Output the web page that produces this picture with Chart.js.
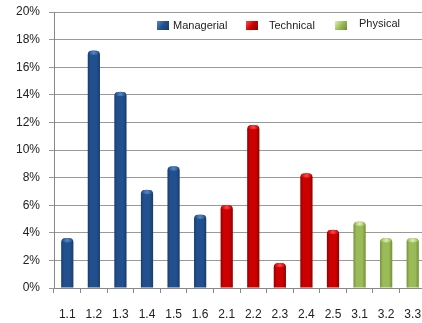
<!DOCTYPE html>
<html>
<head>
<meta charset="utf-8">
<script src="https://cdn.jsdelivr.net/npm/chart.js@4"></script>
<style>
  html, body { margin: 0; padding: 0; background: #fff; overflow: hidden; }
  #wrap { width: 426px; height: 323px; }
</style>
</head>
<body>
<div id="wrap"><canvas id="chart" width="426" height="323"></canvas></div>
<script>
"use strict";

// categories and values (percent)
const categories = ["1.1", "1.2", "1.3", "1.4", "1.5", "1.6", "2.1", "2.2", "2.3", "2.4", "2.5", "3.1", "3.2", "3.3"];
const values = [3.6, 17.2, 14.2, 7.1, 8.8, 5.3, 6.0, 11.8, 1.8, 8.3, 4.2, 4.8, 3.6, 3.6];
const groups = [0, 0, 0, 0, 0, 0, 1, 1, 1, 1, 1, 2, 2, 2];
const groupNames = ["Managerial", "Technical", "Physical"];
const yTicks = [0, 2, 4, 6, 8, 10, 12, 14, 16, 18, 20];

// edge, base and cap colour per group
const palette = [
  { dark: "#173a6a", base: "#22508e", cap: "#5b86c4" },
  { dark: "#8a0000", base: "#cc0000", cap: "#ff4a4a" },
  { dark: "#6e8c30", base: "#9bbb59", cap: "#e2f0b8" }
];

function barFill(ctx) {
  const chart = ctx.chart;
  const g = palette[groups[ctx.dataIndex]];
  const xs = chart.scales && chart.scales.x;
  if (!xs || !chart.chartArea) return g.base;
  const cx = xs.getPixelForValue(ctx.dataIndex);
  const half = 6.5;
  const grad = chart.ctx.createLinearGradient(cx - half, 0, cx + half, 0);
  grad.addColorStop(0, g.dark);
  grad.addColorStop(0.25, g.base);
  grad.addColorStop(0.7, g.base);
  grad.addColorStop(1, g.dark);
  return grad;
}

// no extra scale padding, layout padding decides the plot box
function noPad(s) {
  s.paddingLeft = 0;
  s.paddingRight = 0;
  s.paddingTop = 0;
  s.paddingBottom = 0;
}

// light elliptical cap on top of each bar (cylinder look)
const barCaps = {
  id: "barCaps",
  afterDatasetsDraw(chart) {
    const c = chart.ctx;
    const meta = chart.getDatasetMeta(0);
    c.save();
    meta.data.forEach((bar, i) => {
      const p = palette[groups[i]];
      const w = bar.width / 2 - 1;
      const grad = c.createRadialGradient(bar.x, bar.y + 2, 0, bar.x, bar.y + 2, w);
      grad.addColorStop(0, p.cap);
      grad.addColorStop(1, p.base);
      c.fillStyle = grad;
      c.beginPath();
      c.ellipse(bar.x, bar.y + 2, w, 2.2, 0, 0, Math.PI * 2);
      c.fill();
    });
    c.restore();
  }
};

// legend drawn inside the plot, between the 20% and 18% lines
const boxLegend = {
  id: "boxLegend",
  afterDraw(chart) {
    const c = chart.ctx;
    const pos = [157, 246, 335];
    const textOff = [16, 23, 24];
    c.save();
    c.font = "11px 'Liberation Sans', Arial, sans-serif";
    c.textBaseline = "middle";
    groupNames.forEach((name, i) => {
      const p = palette[i];
      const grad = c.createLinearGradient(pos[i], 21, pos[i] + 12, 30);
      grad.addColorStop(0, p.cap);
      grad.addColorStop(0.5, p.base);
      grad.addColorStop(1, p.dark);
      c.fillStyle = grad;
      c.fillRect(pos[i], 21, 12, 9);
      c.fillStyle = "#222";
      c.fillText(name, pos[i] + textOff[i], i === 2 ? 24 : 26);
    });
    c.restore();
  }
};

new Chart(document.getElementById("chart"), {
  type: "bar",
  data: {
    labels: categories,
    datasets: [{
      data: values,
      backgroundColor: barFill,
      borderWidth: 0,
      borderRadius: { topLeft: 4, topRight: 4 },
      borderSkipped: "bottom",
      categoryPercentage: 1.0,
      barPercentage: 0.46
    }]
  },
  options: {
    responsive: false,
    animation: false,
    layout: { padding: { top: 12, right: 0, left: 0, bottom: 0 } },
    plugins: { legend: { display: false }, tooltip: { enabled: false } },
    scales: {
      x: {
        offset: true,
        grid: { offset: true, drawOnChartArea: false, color: "#888", tickLength: 5 },
        border: { color: "#888" },
        ticks: { color: "#222", font: { size: 12, family: "'Liberation Sans', Arial" }, padding: 14, maxRotation: 0 },
        afterFit(s) { s.height = 35; noPad(s); }
      },
      y: {
        min: 0,
        max: 20,
        afterBuildTicks(s) { s.ticks = yTicks.map(v => ({ value: v })); },
        grid: { color: "#999", tickLength: 5 },
        border: { color: "#888" },
        ticks: {
          color: "#222",
          font: { size: 12, family: "'Liberation Sans', Arial" },
          padding: 9,
          callback: v => v + "%"
        },
        afterFit(s) { s.width = 54; noPad(s); }
      }
    }
  },
  plugins: [barCaps, boxLegend]
});
</script>
</body>
</html>
